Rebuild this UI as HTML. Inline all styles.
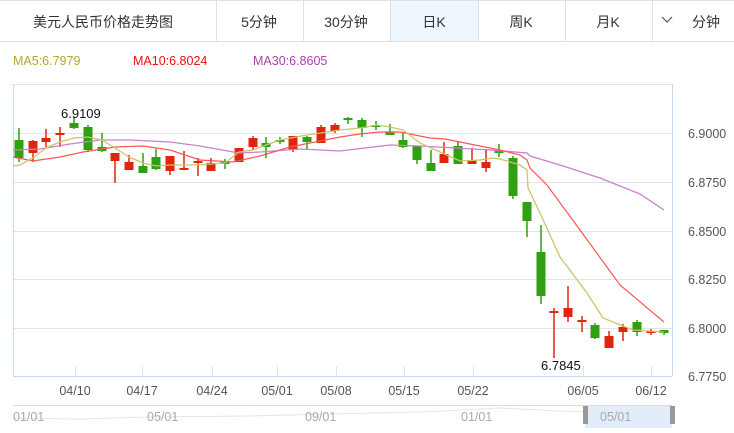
<!DOCTYPE html>
<html><head><meta charset="utf-8"><style>
body{margin:0;background:#fff;width:734px;height:428px;overflow:hidden;font-family:"Liberation Sans","Noto Sans CJK SC",sans-serif}
</style></head><body>
<svg width="734" height="428" xmlns="http://www.w3.org/2000/svg" font-family="Liberation Sans, Noto Sans CJK SC, sans-serif">
<rect x="390" y="0" width="88" height="41" fill="#edf5fd"/>
<g stroke="#e0e0e0" stroke-width="1">
<line x1="0" y1="41.5" x2="734" y2="41.5"/>
<line x1="0" y1="0.5" x2="734" y2="0.5"/>
<line x1="216.5" y1="0" x2="216.5" y2="41"/><line x1="303.5" y1="0" x2="303.5" y2="41"/>
<line x1="390.5" y1="0" x2="390.5" y2="41"/><line x1="478.5" y1="0" x2="478.5" y2="41"/>
<line x1="565.5" y1="0" x2="565.5" y2="41"/><line x1="652.5" y1="0" x2="652.5" y2="41"/>
</g>
<g font-size="14" fill="#333" text-anchor="middle">
<text x="103" y="27">美元人民币价格走势图</text>
<text x="259" y="27">5分钟</text><text x="346" y="27">30分钟</text>
<text x="434" y="27">日K</text><text x="521" y="27">周K</text><text x="608" y="27">月K</text>
<text x="706" y="27">分钟</text>
</g>
<path d="M662 17 L667 22 L672 17" stroke="#555" fill="none" stroke-width="1.2"/>
<g font-size="12.5">
<text x="13" y="65" fill="#b5a82a">MA5:6.7979</text>
<text x="133" y="65" fill="#f01010">MA10:6.8024</text>
<text x="253" y="65" fill="#b040b0">MA30:6.8605</text>
</g>
<g stroke="#e4e4e4"><line x1="13" y1="84.5" x2="672" y2="84.5"/>
<line x1="13" y1="133.5" x2="672" y2="133.5"/><line x1="13" y1="182.5" x2="672" y2="182.5"/>
<line x1="13" y1="231.5" x2="672" y2="231.5"/><line x1="13" y1="279.5" x2="672" y2="279.5"/>
<line x1="13" y1="328.5" x2="672" y2="328.5"/></g>
<g stroke="#c8d8ec"><line x1="13.5" y1="84" x2="13.5" y2="376"/><line x1="672.5" y1="84" x2="672.5" y2="376"/><line x1="13" y1="376.5" x2="672" y2="376.5"/></g>
<g stroke="#dde6f0"><line x1="75.5" y1="366" x2="75.5" y2="376"/><line x1="142.5" y1="366" x2="142.5" y2="376"/><line x1="212.5" y1="366" x2="212.5" y2="376"/><line x1="277.5" y1="366" x2="277.5" y2="376"/><line x1="336.5" y1="366" x2="336.5" y2="376"/><line x1="404.5" y1="366" x2="404.5" y2="376"/><line x1="473.5" y1="366" x2="473.5" y2="376"/><line x1="583.5" y1="366" x2="583.5" y2="376"/><line x1="651.5" y1="366" x2="651.5" y2="376"/></g>
<g font-size="12.5" fill="#555">
<text x="688" y="138">6.9000</text><text x="688" y="187">6.8750</text><text x="688" y="236">6.8500</text>
<text x="688" y="284">6.8250</text><text x="688" y="333">6.8000</text><text x="688" y="381">6.7750</text>
</g>
<g font-size="12.5" fill="#555" text-anchor="middle">
<text x="75" y="395">04/10</text><text x="142" y="395">04/17</text><text x="212" y="395">04/24</text>
<text x="277" y="395">05/01</text><text x="336" y="395">05/08</text><text x="404" y="395">05/15</text>
<text x="473" y="395">05/22</text><text x="583" y="395">06/05</text><text x="651" y="395">06/12</text>
</g>
<g id="c"></g>
<polyline fill="none" stroke="#cc80cc" stroke-width="1.3" points="13,150 40,149 70,144 100,140 130,140 170,142 200,146 239,153 260,152 300,149 340,151 390,145 420,146 490,150 527,153 530,156 560,165 600,178 640,194 664,210"/>
<polyline fill="none" stroke="#f55" stroke-width="1.2" points="13,157 33,161 60,157 83,152 115,147 143,146 170,150 200,160 233,162 260,156 290,147 320,141 340,137 360,134 380,132 400,132 430,138 445,139 470,144 500,150 520,155 527,160 530,168 547,185 580,230 620,285 664,322"/>
<polyline fill="none" stroke="#ccc46a" stroke-width="1.3" points="13,166 20,165 33,158 46,148 60,142 74,138 88,137 102,140 115,148 129,157 143,163 156,166 170,165 198,165 225,163 239,152 253,150 266,145 280,140 307,135 321,133 340,130 360,128 377,125 390,127 403,130 420,143 440,152 460,161 480,160 493,158 500,159 520,165 527,170 528,188 540,213 560,257 587,293 603,318 633,330 664,332"/>
<g font-size="13" fill="#111"><text x="61" y="118">6.9109</text><text x="541" y="370">6.7845</text></g>
<line x1="13" y1="405.5" x2="672" y2="405.5" stroke="#ddd"/>
<polyline fill="none" stroke="#dce6f2" points="13,418 80,419 150,417 250,416 330,414 420,412 500,408 560,411 590,412 640,414 672,413"/>
<rect x="585" y="406" width="87" height="22" fill="#dce9f7" opacity="0.8"/>
<rect x="583" y="406" width="5" height="18" fill="#999"/><rect x="670" y="406" width="5" height="18" fill="#999"/>
<g font-size="12.5" fill="#aaa"><text x="13" y="421">01/01</text><text x="147" y="421">05/01</text><text x="305" y="421">09/01</text><text x="461" y="421">01/01</text><text x="600" y="421">05/01</text></g>
</svg>
<script>
var d=[[19,140,158,128,162,'g'],[33,141,153,140,162,'r'],[46,138,142,129,147,'r'],[60,133,134,127,147,'r'],[74,123,128,117,129,'g'],[88,127,150,125,152,'g'],[102,147,151,133,152,'g'],[115,153,161,153,183,'r'],[129,162,170,155,170,'r'],[143,166,173,153,173,'g'],[156,157,169,149,170,'g'],[170,156,171,156,175,'r'],[184,168,169,151,169,'r'],[198,161,162,158,176,'r'],[211,163,171,158,171,'r'],[225,162,163,159,169,'g'],[239,148,162,148,162,'r'],[253,138,147,136,150,'r'],[266,143,147,137,158,'g'],[280,140,142,137,144,'g'],[293,136,150,136,152,'r'],[307,137,142,136,150,'g'],[321,127,143,125,143,'r'],[335,125,131,123,133,'r'],[348,118,119,117,124,'g'],[362,120,128,118,137,'g'],[376,125,127,121,130,'g'],[390,132,135,124,135,'g'],[403,140,147,132,148,'g'],[417,146,160,146,164,'g'],[431,163,171,150,171,'g'],[444,154,163,142,163,'r'],[458,146,164,142,164,'g'],[472,160,164,148,164,'r'],[486,162,168,149,172,'r'],[499,151,153,144,157,'g'],[513,158,196,156,199,'g'],[527,202,221,202,237,'g'],[541,252,296,225,304,'g'],[554,311,313,308,358,'r'],[568,308,317,286,322,'r'],[582,320,322,316,332,'r'],[595,325,338,323,339,'g'],[609,336,348,331,348,'r'],[623,327,332,324,341,'r'],[637,322,332,320,336,'g'],[651,331,333,329,335,'r'],[664,330,333,330,335,'g']];
var s='';d.forEach(function(c){var col=c[5]=='g'?'#2ea012':'#e0250c';var h=Math.max(c[2]-c[1],2);
s+='<line x1="'+c[0]+'" y1="'+c[3]+'" x2="'+c[0]+'" y2="'+c[4]+'" stroke="'+col+'" stroke-width="1.5"/>';
s+='<rect x="'+(c[0]-4.5)+'" y="'+c[1]+'" width="9" height="'+h+'" fill="'+col+'"/>';});
document.getElementById('c').innerHTML=s;
</script>
</body></html>
